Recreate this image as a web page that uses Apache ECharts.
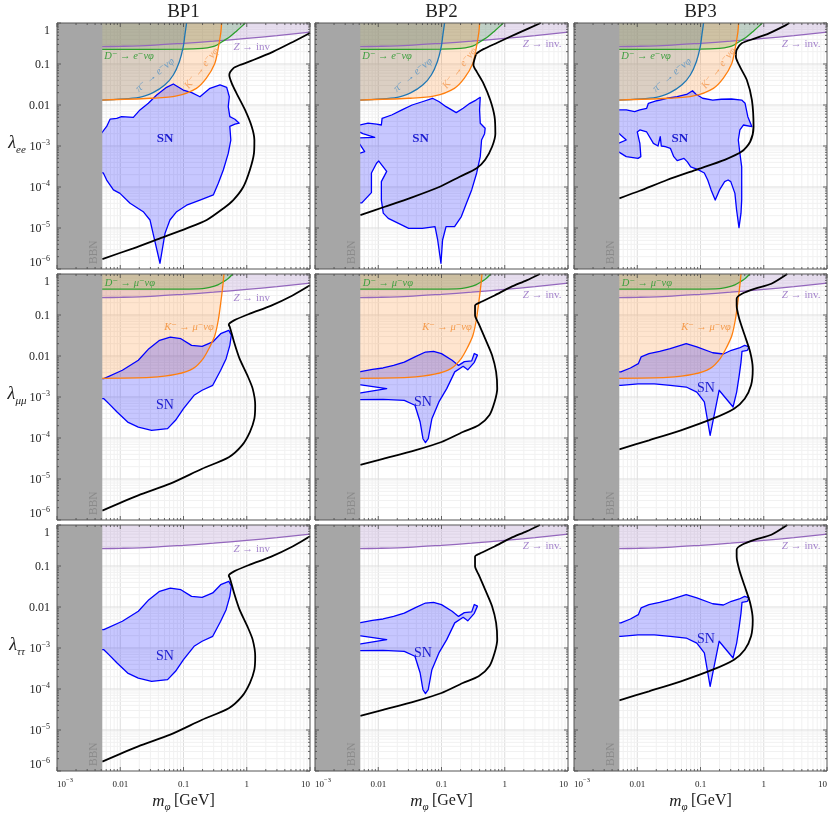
<!DOCTYPE html>
<html><head><meta charset="utf-8">
<script src="https://cdn.jsdelivr.net/npm/echarts/dist/echarts.min.js"></script>
<style>html,body{margin:0;padding:0;background:#fff}#c{width:830px;height:816px}</style>
</head><body><div id="c"></div>
<script>
// ---------------- data ----------------
const bpTitles = ['BP1', 'BP2', 'BP3'];
const rowNames = [['λ', 'ee'], ['λ', 'μμ'], ['λ', 'ττ']];
const xTickVals = [1e-3, 1e-2, 1e-1, 1, 10];
const xTickText = ['10{s|−3}', '0.01', '0.1', '1', '10'];
const yTickVals = [1e-6, 1e-5, 1e-4, 1e-3, 1e-2, 1e-1, 1];
const yTickText = ['10{s|−6}', '10{s|−5}', '10{s|−4}', '10{s|−3}', '0.01', '0.1', '1'];
const bbnMass = 0.0052;

// Z -> invisible bound (same in all panels)
const zInv = [[0.005,0.265],[0.01,0.27],[0.03,0.285],[0.1,0.32],[0.3,0.36],[1,0.42],[3,0.49],[10,0.6]];
// electron-channel meson bounds
const dEl = [[0.005,0.228],[0.1,0.23],[0.2,0.24],[0.28,0.26],[0.34,0.29],[0.42,0.36],[0.54,0.46],[0.7,0.65],[0.85,0.85],[0.95,1]];
const piEl = [[0.005,0.0132],[0.02,0.0154],[0.033,0.02],[0.051,0.031],[0.069,0.054],[0.086,0.114],[0.099,0.26],[0.106,0.56],[0.112,1]];
const kEl = [[0.005,0.0132],[0.03,0.0146],[0.078,0.0166],[0.16,0.0255],[0.23,0.045],[0.31,0.1],[0.35,0.22],[0.39,0.6],[0.40,1]];
// muon-channel meson bounds
const dMu = [[0.005,0.43],[0.1,0.43],[0.2,0.44],[0.26,0.47],[0.35,0.54],[0.43,0.65],[0.52,0.8],[0.6,1]];
const kMu = [[0.005,0.00286],[0.03,0.003],[0.078,0.0036],[0.143,0.005],[0.206,0.0088],[0.262,0.0169],[0.315,0.0325],[0.355,0.0755],[0.387,0.193],[0.417,0.49],[0.437,1]];

// black bound curves
const blackEE1 = [[0.0052,1.75e-6],[0.0161,3.2e-6],[0.0425,5.6e-6],[0.112,9.8e-6],[0.233,1.57e-5],[0.426,3.0e-5],[0.612,4.8e-5],[0.88,1.0e-4],[1.12,2.6e-4],[1.30,6.6e-4],[1.32,1.4e-3],[1.20,2.96e-3],[0.94,7.6e-3],[0.69,0.0193],[0.58,0.0338],[0.53,0.054],[0.612,0.0785],[0.78,0.0946],[1.27,0.125],[2.63,0.2],[5.44,0.35],[10,0.57]];
const blackEE2 = [[0.0052,2.07e-5],[0.0127,3.3e-5],[0.0343,5.6e-5],[0.092,1.0e-4],[0.194,1.78e-4],[0.36,2.86e-4],[0.49,4.6e-4],[0.63,9.6e-4],[0.71,2.0e-3],[0.69,5.2e-3],[0.59,0.0132],[0.46,0.0338],[0.36,0.065],[0.32,0.095],[0.33,0.125],[0.36,0.18],[0.46,0.23],[0.76,0.33],[1.59,0.56],[3.7,1]];
const blackEE3 = [[0.0052,5.3e-5],[0.011,8.1e-5],[0.0295,1.48e-4],[0.0897,2.7e-4],[0.241,4.6e-4],[0.448,7.3e-4],[0.61,1.27e-3],[0.69,2.96e-3],[0.65,0.0132],[0.54,0.0407],[0.42,0.086],[0.363,0.151],[0.372,0.22],[0.448,0.32],[0.73,0.42],[1.21,0.56],[2.24,0.89],[2.54,1]];
const blackMT1 = [[0.0052,1.7e-6],[0.0193,4.0e-6],[0.0617,7.7e-6],[0.197,1.78e-5],[0.52,3.4e-5],[0.84,6.6e-5],[1.12,1.4e-4],[1.32,2.96e-4],[1.36,6.3e-4],[1.24,1.6e-3],[1.02,3.4e-3],[0.77,8.6e-3],[0.63,0.022],[0.54,0.051],[0.52,0.058],[0.63,0.074],[1.12,0.108],[2.44,0.17],[5.3,0.30],[10,0.53]];
const blackMT2 = [[0.0052,2.2e-5],[0.0119,3.1e-5],[0.038,5.0e-5],[0.1,8.0e-5],[0.217,1.4e-4],[0.387,2.04e-4],[0.57,3.6e-4],[0.69,7.6e-4],[0.76,1.6e-3],[0.73,4.1e-3],[0.63,0.0104],[0.49,0.0264],[0.387,0.0614],[0.339,0.098],[0.339,0.17],[0.428,0.21],[0.69,0.30],[1.24,0.48],[2.21,0.70],[3.6,1]];
const blackMT3 = [[0.0052,5.3e-5],[0.0153,8.8e-5],[0.049,1.54e-4],[0.156,2.96e-4],[0.339,5.2e-4],[0.50,9.1e-4],[0.63,1.93e-3],[0.67,4.9e-3],[0.61,0.0125],[0.50,0.032],[0.41,0.081],[0.373,0.17],[0.373,0.25],[0.453,0.33],[0.73,0.44],[1.32,0.58],[2.35,1]];

// supernova regions
const snEE1 = [[0.069,0.0325],[0.099,0.0232],[0.135,0.02],[0.182,0.0159],[0.262,0.0255],[0.378,0.0308],[0.482,0.027],[0.53,0.0159],[0.51,0.0091],[0.54,0.0052],[0.65,0.0045],[0.76,0.0036],[0.65,0.0034],[0.54,0.003],[0.56,0.0014],[0.51,6.6e-4],[0.426,2.6e-4],[0.355,1.23e-4],[0.296,6.4e-5],[0.182,4.8e-5],[0.112,3.6e-5],[0.078,2.5e-5],[0.061,1.57e-5],[0.051,7.4e-6],[0.0425,1.38e-6],[0.034,6.1e-6],[0.0295,1.57e-5],[0.0231,2.5e-5],[0.0143,4.0e-5],[0.0099,7.0e-5],[0.0078,8.5e-5],[0.0061,1.48e-4],[0.0054,2.2e-4],[0.005,2.2e-4],[0.005,2.0e-3],[0.0061,0.003],[0.0069,0.0045],[0.0088,0.0047],[0.0105,0.0052],[0.0161,0.005],[0.0205,0.0076],[0.0278,0.011],[0.0377,0.0175],[0.054,0.027]];
const snEE2 = [[0.005,0.00325],[0.0069,0.0036],[0.0094,0.0034],[0.0112,0.00325],[0.0115,0.0047],[0.0163,0.0057],[0.0237,0.0076],[0.0343,0.01],[0.0497,0.012],[0.072,0.0146],[0.092,0.012],[0.118,0.0091],[0.171,0.0065],[0.22,0.0083],[0.281,0.011],[0.351,0.0132],[0.41,0.0154],[0.40,0.0076],[0.41,0.0036],[0.49,0.0027],[0.48,0.002],[0.43,0.0014],[0.41,5.5e-4],[0.36,2.2e-4],[0.30,8.5e-5],[0.248,4.0e-5],[0.206,1.9e-5],[0.161,1.08e-5],[0.118,1.08e-5],[0.104,5.1e-6],[0.098,1.38e-6],[0.087,5.1e-6],[0.079,1.08e-5],[0.0497,9.8e-6],[0.0303,9.8e-6],[0.0209,1.3e-5],[0.0144,1.72e-5],[0.012,2.3e-5],[0.0112,4.8e-5],[0.0112,1.35e-4],[0.0136,2.4e-4],[0.0102,4.3e-4],[0.0094,3.8e-4],[0.0078,2.2e-4],[0.0078,7.3e-5],[0.0055,4.1e-5],[0.005,4.1e-5],[0.005,6.6e-4],[0.0061,7.3e-4],[0.005,1.16e-3],[0.005,1.57e-3],[0.0088,1.63e-3],[0.0057,2.0e-3],[0.005,2.2e-3]];
const snEE3 = [[0.005,7.6e-3],[0.0067,7.6e-3],[0.0091,6.9e-3],[0.011,7.6e-3],[0.0141,8.3e-3],[0.015,0.011],[0.0204,0.0127],[0.0295,0.0146],[0.0428,0.0159],[0.062,0.0185],[0.0748,0.0223],[0.084,0.0185],[0.108,0.0146],[0.156,0.0132],[0.213,0.0138],[0.309,0.014],[0.448,0.0132],[0.507,0.011],[0.56,5.2e-3],[0.65,2.96e-3],[0.476,3.25e-3],[0.42,2.46e-3],[0.396,1.4e-3],[0.42,6.6e-4],[0.448,3.1e-4],[0.448,4.8e-5],[0.437,2.3e-5],[0.406,1.02e-5],[0.372,2.75e-5],[0.35,7.0e-5],[0.301,1.35e-4],[0.273,1.48e-4],[0.241,1.35e-4],[0.2,8.5e-5],[0.171,4.8e-5],[0.147,8.5e-5],[0.13,1.48e-4],[0.115,2.2e-4],[0.0897,2.7e-4],[0.07,3.1e-4],[0.062,4.1e-4],[0.0548,5.0e-4],[0.0428,4.4e-4],[0.0378,5.5e-4],[0.0334,8.8e-4],[0.0278,9.6e-4],[0.024,1.0e-3],[0.0231,1.69e-3],[0.0213,1.0e-3],[0.018,1.16e-3],[0.0141,2.2e-3],[0.011,2.46e-3],[0.01,2.2e-3],[0.011,1.16e-3],[0.0114,5.5e-4],[0.0103,5.0e-4],[0.0067,5.5e-4],[0.005,7.3e-4],[0.005,1.16e-3],[0.0067,1.4e-3],[0.005,2.1e-3]];
const snMT1 = [[0.005,2.8e-3],[0.0055,2.8e-3],[0.0108,4.5e-3],[0.0193,7.9e-3],[0.0284,0.0151],[0.0419,0.0242],[0.0617,0.029],[0.091,0.0264],[0.134,0.0182],[0.197,0.0172],[0.29,0.022],[0.387,0.035],[0.52,0.0423],[0.57,0.032],[0.54,0.0182],[0.472,8.6e-3],[0.387,4.5e-3],[0.29,1.93e-3],[0.197,1.46e-3],[0.147,1.1e-3],[0.1,5.2e-4],[0.0748,2.7e-4],[0.056,1.69e-4],[0.0313,1.54e-4],[0.0193,1.85e-4],[0.0131,2.45e-4],[0.0089,4.3e-4],[0.0066,6.9e-4],[0.0055,9.1e-4],[0.005,9.1e-4]];
const snMT2 = [[0.005,4.1e-3],[0.0081,4.7e-3],[0.0119,5.1e-3],[0.0175,5.9e-3],[0.0258,7.1e-3],[0.038,9.5e-3],[0.0558,0.0125],[0.0748,0.013],[0.1,0.0114],[0.147,7.9e-3],[0.186,5.9e-3],[0.23,7.3e-3],[0.30,7.6e-3],[0.33,0.0115],[0.37,0.0105],[0.33,7.0e-3],[0.26,4.6e-3],[0.22,5.6e-3],[0.162,4.1e-3],[0.121,1.6e-3],[0.091,7.6e-4],[0.0705,2.96e-4],[0.0617,9.6e-5],[0.0558,7.7e-5],[0.0509,9.6e-5],[0.046,2.45e-4],[0.038,6.3e-4],[0.0258,8.3e-4],[0.0119,8.8e-4],[0.005,8.6e-4],[0.005,1.25e-3],[0.0136,1.6e-3],[0.005,2.0e-3]];
const snMT3 = [[0.005,4.1e-3],[0.0055,4.1e-3],[0.0078,5.1e-3],[0.0104,6.5e-3],[0.0115,9.5e-3],[0.0153,0.0114],[0.0226,0.013],[0.0332,0.0151],[0.0594,0.02],[0.0875,0.0166],[0.156,0.012],[0.23,0.0112],[0.308,0.0138],[0.41,0.0157],[0.50,0.0182],[0.585,0.0166],[0.55,0.0138],[0.453,0.013],[0.437,7.1e-3],[0.41,3.4e-3],[0.373,1.32e-3],[0.327,5.7e-4],[0.197,1.46e-3],[0.142,1.16e-4],[0.115,7.6e-4],[0.0875,1.32e-3],[0.0594,1.75e-3],[0.0332,1.93e-3],[0.0186,2.1e-3],[0.0104,2.1e-3],[0.0055,1.93e-3],[0.005,1.93e-3]];

// ---------------- layout / style ----------------
const SERIF = "'Liberation Serif','DejaVu Serif',serif";
const colLeft = [57, 315, 574], rowTop = [23, 274, 525], PW = 253, PH = 246;
const xMin = 1e-3, xMax = 10, yMin = 1e-6, yMax = 1;
const C = { z: '#9467bd', d: '#2ca02c', pi: '#1f77b4', k: '#ff7f0e', sn: '#0000ff' };
const fillA = (hex, a) => { const n = parseInt(hex.slice(1), 16); return `rgba(${n >> 16},${(n >> 8) & 255},${n & 255},${a})`; };

const rowBounds = [
  [{ d: zInv, c: C.z, closeRight: true }, { d: dEl, c: C.d }, { d: piEl, c: C.pi }, { d: kEl, c: C.k }],
  [{ d: zInv, c: C.z, closeRight: true }, { d: dMu, c: C.d }, { d: kMu, c: C.k }],
  [{ d: zInv, c: C.z, closeRight: true }]
];
const blacks = [[blackEE1, blackEE2, blackEE3], [blackMT1, blackMT2, blackMT3], [blackMT1, blackMT2, blackMT3]];
const sns = [[snEE1, snEE2, snEE3], [snMT1, snMT2, snMT3], [snMT1, snMT2, snMT3]];
const snLabelAt = [[[0.051, 1.54e-3], [0.0467, 1.54e-3], [0.047, 1.54e-3]],
                   [[0.051, 6.3e-4], [0.0509, 7.3e-4], [0.122, 1.6e-3]],
                   [[0.051, 6.2e-4], [0.0509, 7.4e-4], [0.122, 1.6e-3]]];
const LF = 'italic 10.5px ' + SERIF;
const rowLabels = [
  [{ text: 'D⁻ → e⁻νφ', at: [0.0056, 0.157], align: 'left', color: '#3f9f3f', font: LF },
   { text: 'π⁻ → e⁻νφ', at: [0.0354, 0.054], rot: 40, color: '#6d9dc4', font: LF },
   { text: 'K⁻ → e⁻νφ', at: [0.194, 0.0785], rot: 52, color: '#f6a564', font: LF }],
  [{ text: 'D⁻ → μ⁻νφ', at: [0.0057, 0.61], align: 'left', color: '#3f9f3f', font: LF },
   { text: 'K⁻ → μ⁻νφ', at: [0.122, 0.05], color: '#f59a4a', font: LF }],
  []
];

const grids = [], xAxes = [], yAxes = [], series = [];

function polySeries(gi, pts, style, z) {
  return { type: 'custom', xAxisIndex: gi, yAxisIndex: gi, z: z, silent: true, clip: true, animation: false,
    data: [pts[0]],
    renderItem: (params, api) => ({ type: 'polygon', shape: { points: pts.map(p => api.coord(p)) }, style: style }) };
}
function lineSeries(gi, pts, color, width, z, smooth) {
  return { type: 'line', xAxisIndex: gi, yAxisIndex: gi, data: pts, showSymbol: false, symbol: 'none', z: z,
    smooth: smooth || false, clip: true, silent: true, animation: false,
    lineStyle: { color: color, width: width } };
}
function gridLinesSeries(gi) {
  return { type: 'custom', xAxisIndex: gi, yAxisIndex: gi, z: 1, silent: true, clip: false, animation: false,
    data: [[xMin, yMin]],
    renderItem: (params, api) => {
      const a = api.coord([xMin, yMin]), b = api.coord([xMax, yMax]);
      const ch = [];
      for (let d = -3; d <= 1; d++) for (let k = 1; k <= 9; k++) {
        const v = k * Math.pow(10, d); if (v <= xMin * 1.0001 || v >= xMax * 0.9999) continue;
        const x = api.coord([v, yMin])[0];
        ch.push({ type: 'line', shape: { x1: x, y1: a[1], x2: x, y2: b[1] }, style: { stroke: k === 1 ? '#dddddd' : '#f1f1f1', lineWidth: 1 } });
      }
      for (let d = -6; d <= 0; d++) for (let k = 1; k <= 9; k++) {
        const v = k * Math.pow(10, d); if (v <= yMin * 1.0001 || v >= yMax * 0.9999) continue;
        const y = api.coord([xMin, v])[1];
        ch.push({ type: 'line', shape: { x1: a[0], y1: y, x2: b[0], y2: y }, style: { stroke: k === 1 ? '#dddddd' : '#f1f1f1', lineWidth: 1 } });
      }
      return { type: 'group', children: ch };
    } };
}
function frameSeries(gi) {
  return { type: 'custom', xAxisIndex: gi, yAxisIndex: gi, z: 30, silent: true, clip: false, animation: false,
    data: [[xMin, yMin]],
    renderItem: (params, api) => {
      const a = api.coord([xMin, yMin]), b = api.coord([xMax, yMax]);
      const L = a[0], B = a[1], R = b[0], T = b[1];
      const st = { stroke: '#444', lineWidth: 0.8 };
      const ch = [];
      for (let d = -3; d <= 1; d++) for (let k = 1; k <= 9; k++) {
        const v = k * Math.pow(10, d); if (v < xMin * 0.9999 || v > xMax * 1.0001) continue;
        const x = api.coord([v, yMin])[0], len = k === 1 ? 4 : 2;
        ch.push({ type: 'line', shape: { x1: x, y1: B, x2: x, y2: B - len }, style: st });
        ch.push({ type: 'line', shape: { x1: x, y1: T, x2: x, y2: T + len }, style: st });
      }
      for (let d = -6; d <= 0; d++) for (let k = 1; k <= 9; k++) {
        const v = k * Math.pow(10, d); if (v < yMin * 0.9999 || v > yMax * 1.0001) continue;
        const y = api.coord([xMin, v])[1], len = k === 1 ? 4 : 2;
        ch.push({ type: 'line', shape: { x1: L, y1: y, x2: L + len, y2: y }, style: st });
        ch.push({ type: 'line', shape: { x1: R, y1: y, x2: R - len, y2: y }, style: st });
      }
      ch.push({ type: 'rect', shape: { x: L, y: T, width: R - L, height: B - T }, style: { fill: null, stroke: '#555', lineWidth: 1 } });
      return { type: 'group', children: ch };
    } };
}
function textSeries(gi, items) {
  return { type: 'custom', xAxisIndex: gi, yAxisIndex: gi, z: 20, silent: true, clip: false, animation: false,
    data: [[xMin, yMin]],
    renderItem: (params, api) => ({ type: 'group', children: items.map(it => {
      const p = api.coord(it.at);
      return { type: 'text', x: p[0] + (it.dx || 0), y: p[1] + (it.dy || 0), rotation: (it.rot || 0) * Math.PI / 180,
        style: { text: it.text, rich: it.rich, fill: it.color, font: it.font,
          align: it.align || 'center', verticalAlign: it.valign || 'middle',
          textAlign: it.align || 'center', textVerticalAlign: it.valign || 'middle' } };
    }) }) };
}
function tickLabel(vals, texts, v) {
  const e = Math.round(Math.log10(v));
  const i = vals.findIndex(t => Math.round(Math.log10(t)) === e);
  const t = i < 0 ? '' : texts[i];
  return t.indexOf('{') >= 0 ? '{b|' + t.replace('{s|', '}{s|') : '{b|' + t + '}';
}

for (let r = 0; r < 3; r++) for (let c = 0; c < 3; c++) {
  const gi = r * 3 + c;
  grids.push({ left: colLeft[c], top: rowTop[r], width: PW, height: PH, containLabel: false });
  xAxes.push({ type: 'log', logBase: 10, gridIndex: gi, min: xMin, max: xMax,
    axisLine: { show: false }, axisTick: { show: false }, splitLine: { show: false }, minorTick: { show: false },
    axisLabel: { show: r === 2, formatter: v => tickLabel(xTickVals, xTickText, v), margin: 6, showMinLabel: true, showMaxLabel: true,
      alignMinLabel: 'left', alignMaxLabel: 'right',
      rich: { b: { fontSize: 9, fontFamily: SERIF, color: '#222', lineHeight: 12, verticalAlign: 'bottom' },
              s: { fontSize: 6.5, fontFamily: SERIF, color: '#222', lineHeight: 7, verticalAlign: 'top' } } } });
  yAxes.push({ type: 'log', logBase: 10, gridIndex: gi, min: yMin, max: yMax,
    axisLine: { show: false }, axisTick: { show: false }, splitLine: { show: false }, minorTick: { show: false },
    axisLabel: { show: c === 0, formatter: v => tickLabel(yTickVals, yTickText, v), margin: 7, showMinLabel: true, showMaxLabel: true,
      verticalAlignMinLabel: 'bottom', verticalAlignMaxLabel: 'top',
      rich: { b: { fontSize: 12, fontFamily: SERIF, color: '#222', lineHeight: 14, verticalAlign: 'bottom' },
              s: { fontSize: 8, fontFamily: SERIF, color: '#222', lineHeight: 9, verticalAlign: 'top' } } } });

  series.push(gridLinesSeries(gi));
  rowBounds[r].forEach(bd => {
    const poly = bd.closeRight ? bd.d.concat([[xMax, yMax], [bd.d[0][0], yMax]]) : bd.d.concat([[bd.d[0][0], yMax]]);
    series.push(polySeries(gi, poly, { fill: fillA(bd.c, 0.2) }, 2));
  });
  series.push(polySeries(gi, sns[r][c], { fill: 'rgba(0,0,255,0.22)', stroke: C.sn, lineWidth: 1.3, lineJoin: 'round' }, 3));
  rowBounds[r].forEach(bd => series.push(lineSeries(gi, bd.d, bd.c, 1.3, 4, 0.3)));
  series.push(lineSeries(gi, blacks[r][c], '#000', 1.8, 5, 0.25));
  series.push(polySeries(gi, [[xMin, yMin], [bbnMass, yMin], [bbnMass, yMax], [xMin, yMax]], { fill: '#a6a6a6' }, 6));
  const labels = rowLabels[r].slice();
  const zRich = { i: { fontStyle: 'italic', fontSize: 11, fontFamily: SERIF, color: '#a585cc' } };
  labels.push(c === 0
    ? { text: '{i|Z} → inv', at: [1.2, 0.262], color: '#a585cc', font: '11px ' + SERIF, rich: zRich }
    : { text: '{i|Z} → inv.', at: [7.9, 0.30], align: 'right', color: '#a585cc', font: '11px ' + SERIF, rich: zRich });
  labels.push(r === 0
    ? { text: 'SN', at: snLabelAt[r][c], color: '#1a1ad0', font: 'bold 13px ' + SERIF }
    : { text: 'SN', at: snLabelAt[r][c], color: '#1a1ad0', font: '14px ' + SERIF });
  labels.push({ text: 'BBN', at: [bbnMass, yMin], dx: -2, dy: -5, rot: 90, align: 'left', valign: 'bottom', color: '#8a8a8a', font: '11.5px ' + SERIF });
  series.push(textSeries(gi, labels));
  series.push(frameSeries(gi));
}

const graphics = [];
for (let c = 0; c < 3; c++) {
  graphics.push({ type: 'text', x: colLeft[c] + PW / 2, y: 12, style: { text: bpTitles[c], font: '19px ' + SERIF, fill: '#222',
    align: 'center', verticalAlign: 'middle', textAlign: 'center', textVerticalAlign: 'middle' } });
  graphics.push({ type: 'text', x: colLeft[c] + PW / 2, y: 803, style: { text: '{m|m}{u|φ} {g|[GeV]}',
    align: 'center', verticalAlign: 'middle', textAlign: 'center', textVerticalAlign: 'middle', fill: '#222',
    rich: { m: { fontSize: 17, fontStyle: 'italic', fontFamily: SERIF, color: '#222', lineHeight: 20, verticalAlign: 'top' },
            u: { fontSize: 11, fontStyle: 'italic', fontFamily: SERIF, color: '#222', lineHeight: 11, verticalAlign: 'bottom' },
            g: { fontSize: 16, fontFamily: SERIF, color: '#222', lineHeight: 20, verticalAlign: 'top' } } } });
}
for (let r = 0; r < 3; r++) {
  graphics.push({ type: 'text', x: 17, y: rowTop[r] + 122, style: { text: '{l|' + rowNames[r][0] + '}{u|' + rowNames[r][1] + '}',
    align: 'center', verticalAlign: 'middle', textAlign: 'center', textVerticalAlign: 'middle', fill: '#222',
    rich: { l: { fontSize: 18, fontStyle: 'italic', fontFamily: SERIF, color: '#222', lineHeight: 22, verticalAlign: 'top' },
            u: { fontSize: 11, fontStyle: 'italic', fontFamily: SERIF, color: '#222', lineHeight: 11, verticalAlign: 'bottom' } } } });
}

const chart = echarts.init(document.getElementById('c'), null, { renderer: 'canvas' });
chart.setOption({ animation: false, backgroundColor: '#fff', grid: grids, xAxis: xAxes, yAxis: yAxes, series: series, graphic: graphics });
</script></body></html>
